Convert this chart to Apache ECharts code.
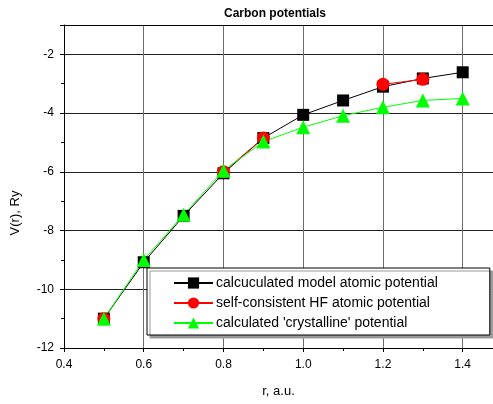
<!DOCTYPE html>
<html>
<head>
<meta charset="utf-8">
<script src="https://cdn.jsdelivr.net/npm/echarts@6/dist/echarts.min.js"></script>
<style>
  html, body { margin: 0; padding: 0; background: #fff; }
  #chart { width: 493px; height: 404px; }
</style>
</head>
<body>
<div id="chart"></div>
<script>
// 数据：r (a.u.) 与各势能 V(r) (Ry)
const rModel = [0.5, 0.6, 0.7, 0.8, 0.9, 1.0, 1.1, 1.2, 1.3, 1.4];
const vModel = [-11.0, -9.08, -7.5, -6.05, -4.85, -4.06, -3.57, -3.1, -2.82, -2.61];

// HF 只有部分点，null 处断开
const rHF = [0.5, 0.6, 0.8, 0.9, 1.0, 1.2, 1.3];
const vHF = [-11.0, null, -6.0, -4.85, null, -3.02, -2.85];

const rCryst = [0.5, 0.6, 0.7, 0.8, 0.9, 1.0, 1.1, 1.2, 1.3, 1.4];
const vCryst = [-11.0, -9.0, -7.46, -5.96, -4.97, -4.48, -4.09, -3.8, -3.57, -3.5];

const seriesNames = [
    "calcuculated model atomic potential",
    "self-consistent HF atomic potential",
    "calculated 'crystalline' potential"
];

const font = 'Arial, "Liberation Sans", sans-serif';

function pairs(xs, ys) {
    return xs.map((x, i) => [x, ys[i]]);
}

const chart = echarts.init(document.getElementById('chart'));

chart.setOption({
    animation: false,
    backgroundColor: '#fff',
    title: {
        text: 'Carbon potentials',
        left: 219,
        top: 3,
        textStyle: { fontFamily: font, fontSize: 12, fontWeight: 'bold', color: '#000' }
    },
    grid: {
        left: 64,
        top: 25,
        bottom: 56,
        right: 0
    },
    legend: {
        orient: 'vertical',
        left: 147,
        top: 268,
        padding: [8, 52, 5, 26],
        itemGap: 6,
        itemWidth: 39,
        itemHeight: 14,
        backgroundColor: '#fff',
        borderColor: '#000',
        borderWidth: 1,
        borderRadius: 0,
        shadowColor: '#999',
        shadowOffsetX: 3,
        shadowOffsetY: 3,
        shadowBlur: 0,
        textStyle: { fontFamily: font, fontSize: 14, color: '#000', padding: [0, 0, 0, -2] },
        data: seriesNames
    },
    xAxis: [{
        type: 'value',
        min: 0.4,
        max: 1.476,
        interval: 0.2,
        name: 'r, a.u.',
        nameLocation: 'middle',
        nameGap: 37,
        nameTextStyle: { fontFamily: font, fontSize: 13, color: '#000' },
        axisLine: { show: true, lineStyle: { color: '#000', width: 1 } },
        axisTick: { show: true, length: 4, lineStyle: { color: '#000' } },
        minorTick: { show: true, splitNumber: 2, length: 3, lineStyle: { color: '#000' } },
        axisLabel: {
            fontFamily: font, fontSize: 12, color: '#000', margin: 11,
            showMaxLabel: false,
            formatter: v => v.toFixed(1)
        },
        splitLine: { show: true, lineStyle: { color: '#6e6e6e', width: 1 } }
    }, {
        // 顶部边框线
        type: 'value',
        position: 'top',
        min: 0.4,
        max: 1.476,
        axisLine: { show: true, lineStyle: { color: '#000', width: 1 } },
        axisTick: { show: false },
        axisLabel: { show: false },
        splitLine: { show: false }
    }],
    yAxis: {
        type: 'value',
        min: -12,
        max: -1,
        interval: 2,
        axisLine: { show: true, lineStyle: { color: '#000', width: 1 } },
        axisTick: { show: true, length: 4, lineStyle: { color: '#000' } },
        minorTick: { show: true, splitNumber: 2, length: 3, lineStyle: { color: '#000' } },
        axisLabel: { fontFamily: font, fontSize: 12, color: '#000', margin: 10, showMaxLabel: false },
        splitLine: { show: true, lineStyle: { color: '#222', width: 1 } }
    },
    graphic: [{
        type: 'text',
        x: 15,
        y: 213,
        rotation: Math.PI / 2,
        style: {
            text: 'V(r), Ry',
            fontFamily: font,
            fontSize: 13,
            fill: '#000',
            align: 'center',
            verticalAlign: 'middle'
        }
    }],
    series: [
        {
            name: seriesNames[0],
            type: 'line',
            data: pairs(rModel, vModel),
            symbol: 'rect',
            symbolSize: 12,
            itemStyle: { color: '#000' },
            lineStyle: { color: '#000', width: 1 }
        },
        {
            name: seriesNames[1],
            type: 'line',
            data: pairs(rHF, vHF),
            connectNulls: false,
            symbol: 'circle',
            symbolSize: 13,
            itemStyle: { color: '#ff0000' },
            lineStyle: { color: '#ff0000', width: 1 }
        },
        {
            name: seriesNames[2],
            type: 'line',
            data: pairs(rCryst, vCryst),
            symbol: 'triangle',
            symbolSize: 14,
            itemStyle: { color: '#00ff00' },
            lineStyle: { color: '#00ff00', width: 1 }
        }
    ]
});
</script>
</body>
</html>
